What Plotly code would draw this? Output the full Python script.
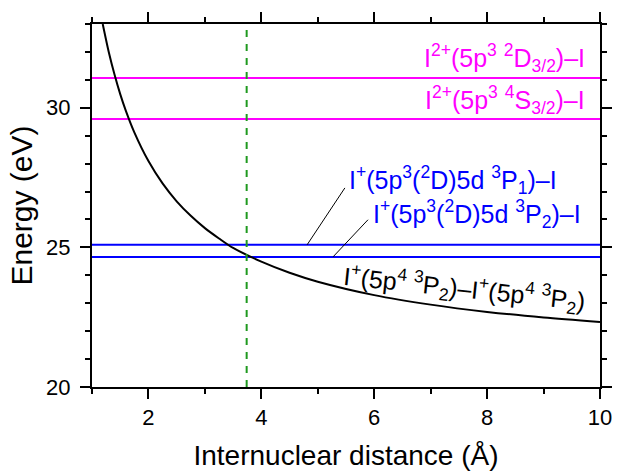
import plotly.graph_objects as go

# ---- data ----
R_curve = [1.19, 1.3, 1.4, 1.5, 1.6, 1.75, 2.0, 2.25, 2.5, 2.75, 3.0, 3.25, 3.5, 4.0, 4.5, 5.0, 6.0, 7.0, 8.0, 9.0, 10.0]
E_curve = [33.0, 31.97, 31.18, 30.49, 29.89, 29.12, 28.09, 27.29, 26.65, 26.13, 25.69, 25.32, 24.98, 24.49, 24.09, 23.77, 23.29, 22.95, 22.69, 22.49, 22.33]

level_names = [
    "I<sup>2+</sup>(5p<sup>3</sup> <sup>2</sup>D<sub>3/2</sub>)–I",
    "I<sup>2+</sup>(5p<sup>3</sup> <sup>4</sup>S<sub>3/2</sub>)–I",
    "I<sup>+</sup>(5p<sup>3</sup>(<sup>2</sup>D)5d <sup>3</sup>P<sub>1</sub>)–I",
    "I<sup>+</sup>(5p<sup>3</sup>(<sup>2</sup>D)5d <sup>3</sup>P<sub>2</sub>)–I",
]
level_E = [31.07, 29.6, 25.09, 24.66]
curve_name = "I<sup>+</sup>(5p<sup>4</sup> <sup>3</sup>P<sub>2</sub>)–I<sup>+</sup>(5p<sup>4</sup> <sup>3</sup>P<sub>2</sub>)"
crossing_R = 3.74

x_range = [1, 10]
y_range = [20, 33]

MAGENTA = "#ff00ff"
BLUE = "#0000ff"
GREEN = "#1f991f"
FONT = "Liberation Sans, Arial, Helvetica, sans-serif"

level_colors = [MAGENTA, MAGENTA, BLUE, BLUE]

fig = go.Figure()

for E, c in zip(level_E, level_colors):
    fig.add_trace(go.Scatter(x=x_range, y=[E, E], mode="lines",
                             line=dict(color=c, width=2), showlegend=False, hoverinfo="skip"))

fig.add_trace(go.Scatter(x=R_curve, y=E_curve, mode="lines",
                         line=dict(color="black", width=2, shape="spline", smoothing=0.8),
                         showlegend=False))

fig.add_trace(go.Scatter(x=[crossing_R, crossing_R], y=y_range, mode="lines",
                         line=dict(color=GREEN, width=2, dash="7px,7px"),
                         showlegend=False, hoverinfo="skip"))

# leader lines for the blue labels
fig.add_shape(type="line", x0=4.81, y0=level_E[2], x1=5.48, y1=27.13,
              line=dict(color="black", width=1))
fig.add_shape(type="line", x0=5.27, y0=level_E[3], x1=5.89, y1=25.99,
              line=dict(color="black", width=1))

label_font = dict(family=FONT, size=25)
# magenta labels
fig.add_annotation(x=9.77, y=31.8, text=level_names[0], showarrow=False,
                   xanchor="right", yanchor="middle", font=dict(label_font, color=MAGENTA))
fig.add_annotation(x=9.77, y=30.27, text=level_names[1], showarrow=False,
                   xanchor="right", yanchor="middle", font=dict(label_font, color=MAGENTA))
# blue labels
fig.add_annotation(x=5.52, y=27.4, text=level_names[2], showarrow=False,
                   xanchor="left", yanchor="middle", font=dict(label_font, color=BLUE))
fig.add_annotation(x=5.94, y=26.2, text=level_names[3], showarrow=False,
                   xanchor="left", yanchor="middle", font=dict(label_font, color=BLUE))
# curve label
fig.add_annotation(x=7.6, y=23.5, text=curve_name, showarrow=False, textangle=6,
                   xanchor="center", yanchor="middle", font=dict(label_font, color="black"))

axis_common = dict(
    showline=True, linecolor="black", linewidth=2, mirror="ticks",
    ticks="outside", ticklen=10, tickwidth=2, tickcolor="black",
    showgrid=False, zeroline=False,
    tickfont=dict(family=FONT, size=22, color="black"),
)

fig.update_xaxes(range=x_range, tick0=0, dtick=2,
                 minor=dict(dtick=1, ticks="outside", ticklen=5, tickwidth=2, tickcolor="black"),
                 title=dict(text="Internuclear distance (Å)", font=dict(family=FONT, size=28, color="black"),
                            standoff=16),
                 **axis_common)
fig.update_yaxes(range=y_range, tick0=0, dtick=5, ticklabelstandoff=5,
                 minor=dict(dtick=1, ticks="outside", ticklen=5, tickwidth=2, tickcolor="black"),
                 title=dict(text="Energy (eV)", font=dict(family=FONT, size=30, color="black"),
                            standoff=5),
                 **axis_common)

fig.update_layout(
    width=619, height=476,
    margin=dict(l=92, r=19, t=24, b=89, autoexpand=False),
    paper_bgcolor="white", plot_bgcolor="white",
    font=dict(family=FONT, color="black"),
)

fig.write_html("out.html")
